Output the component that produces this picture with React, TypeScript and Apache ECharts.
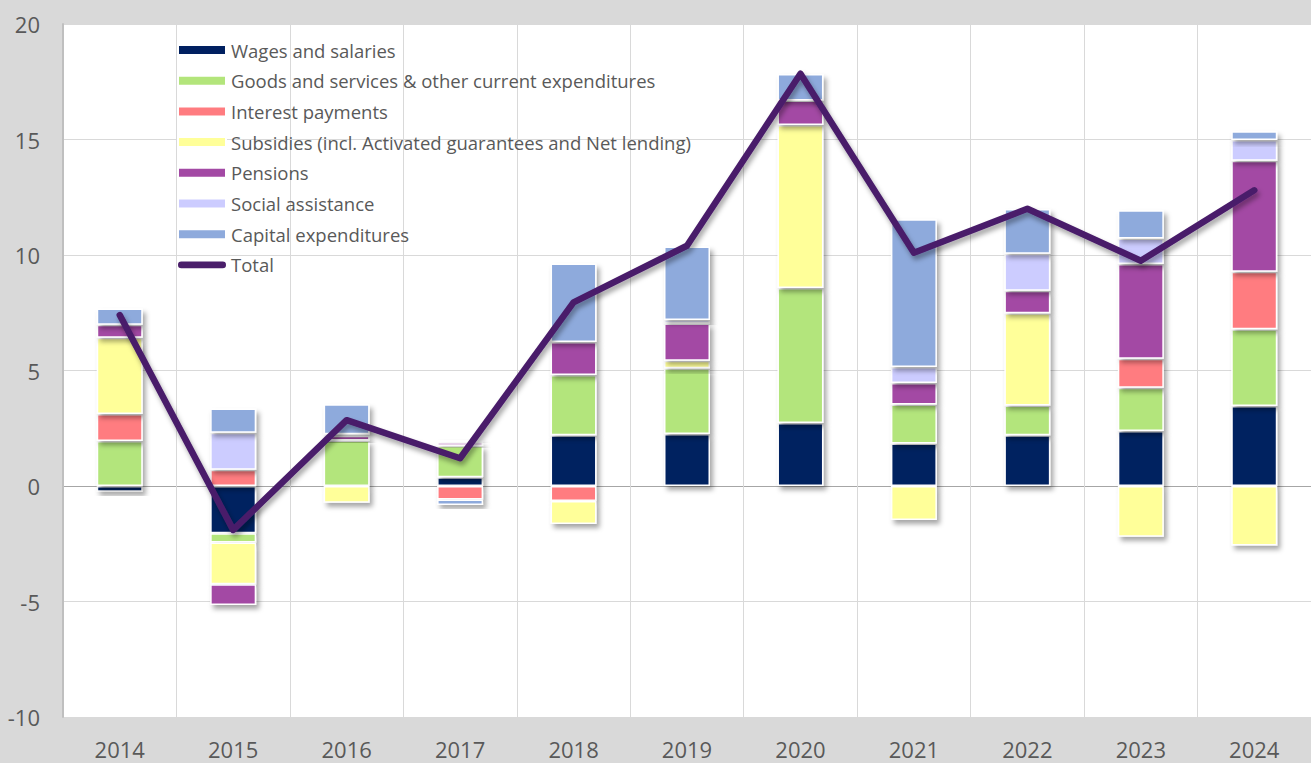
import React, { useEffect, useRef } from "react";
import * as echarts from "echarts";

const years = ["2014", "2015", "2016", "2017", "2018", "2019", "2020", "2021", "2022", "2023", "2024"];
const wages = [-0.25, -2.05, 0, 0.38, 2.2, 2.25, 2.73, 1.84, 2.2, 2.38, 3.46];
const goods = [1.95, -0.4, 1.97, 1.36, 2.6, 2.85, 5.84, 1.69, 1.28, 1.87, 3.33];
const interest = [1.17, 0.7, 0, -0.58, -0.65, 0, 0, 0, 0, 1.26, 2.49];
const subsidies = [3.3, -1.8, -0.72, 0, -1.0, 0.32, 7.06, -1.47, 4.0, -2.2, -2.58];
const pensions = [0.56, -0.9, 0.2, 0.15, 1.43, 1.62, 1.06, 0.93, 0.97, 4.1, 4.8];
const social = [0, 1.6, 0.07, 0.1, 0, 0.15, 0, 0.69, 1.6, 1.1, 0.9];
const capital = [0.7, 1.05, 1.3, -0.24, 3.4, 3.18, 1.15, 6.4, 1.94, 1.23, 0.38];
const total = [7.4, -1.9, 2.85, 1.2, 7.95, 10.4, 17.85, 10.1, 12.0, 9.75, 12.8];

const barSeries = [
  { name: "Wages and salaries", data: wages, color: "#002060" },
  { name: "Goods and services & other current expenditures", data: goods, color: "#b3e57b" },
  { name: "Interest payments", data: interest, color: "#ff7c80" },
  { name: "Subsidies (incl. Activated guarantees and Net lending)", data: subsidies, color: "#ffff99" },
  { name: "Pensions", data: pensions, color: "#a349a4" },
  { name: "Social assistance", data: social, color: "#ccccff" },
  { name: "Capital expenditures", data: capital, color: "#8eaadc" },
];

const FONT = "'Open Sans', Lato, sans-serif";
const LINE_COLOR = "#4a1e6a";

export default function App() {
  const ref = useRef<HTMLDivElement>(null);
  useEffect(() => {
    document.body.style.margin = "0";
    const chart = echarts.init(ref.current!, null, { renderer: "svg" });
    const series: any[] = barSeries.map((s) => ({
      type: "bar",
      name: s.name,
      stack: "all",
      data: s.data,
      barWidth: 46,
      itemStyle: {
        color: s.color,
        borderColor: "#ffffff",
        borderWidth: 1.5,
        shadowColor: "rgba(0,0,0,0.35)",
        shadowBlur: 5,
        shadowOffsetX: 3,
        shadowOffsetY: 4,
      },
    }));
    series.push({
      type: "line",
      name: "Total",
      data: total,
      symbol: "none",
      z: 5,
      lineStyle: {
        color: LINE_COLOR,
        width: 6.5,
        cap: "round",
        join: "round",
        shadowColor: "rgba(0,0,0,0.35)",
        shadowBlur: 5,
        shadowOffsetX: 2,
        shadowOffsetY: 4,
      },
      itemStyle: { color: LINE_COLOR },
    });
    chart.setOption({
      animation: false,
      backgroundColor: "#d9d9d9",
      textStyle: { fontFamily: FONT },
      grid: {
        left: 63,
        right: 0,
        top: 24,
        bottom: 46,
        show: true,
        backgroundColor: "#ffffff",
        borderWidth: 0,
      },
      legend: {
        orient: "vertical",
        left: 177,
        top: 40,
        padding: 0,
        itemWidth: 48,
        itemHeight: 10,
        itemGap: 10.7,
        data: [
          ...barSeries.map((s) => ({ name: s.name, icon: "rect" })),
          {
            name: "Total",
            icon: "path://M4,0 L54,0 A4,4 0 0 1 54,8 L4,8 A4,4 0 0 1 4,0 Z",
            itemStyle: { color: LINE_COLOR },
          },
        ],
        textStyle: { fontSize: 18.5, lineHeight: 20, color: "#595959", fontFamily: FONT },
      },
      xAxis: {
        type: "category",
        data: years,
        boundaryGap: true,
        axisLine: { show: false },
        axisTick: { show: false },
        splitLine: { show: true, lineStyle: { color: "#d9d9d9", width: 1 } },
        axisLabel: { fontSize: 22, color: "#595959", margin: 21, fontFamily: FONT },
      },
      yAxis: {
        type: "value",
        min: -10,
        max: 20,
        interval: 5,
        axisLine: { show: true, lineStyle: { color: "#bfbfbf", width: 2 } },
        axisTick: { show: false },
        splitLine: {
          show: true,
          lineStyle: {
            color: ["#d9d9d9", "#d9d9d9", "#a6a6a6", "#d9d9d9", "#d9d9d9", "#d9d9d9", "#d9d9d9"],
            width: 1.2,
          },
        },
        axisLabel: { fontSize: 22, color: "#595959", margin: 23, fontFamily: FONT },
      },
      series,
    });
    return () => chart.dispose();
  }, []);
  return (
    <div
      ref={ref}
      style={{ position: "fixed", left: 0, top: 0, width: 1311, height: 763 }}
    />
  );
}
